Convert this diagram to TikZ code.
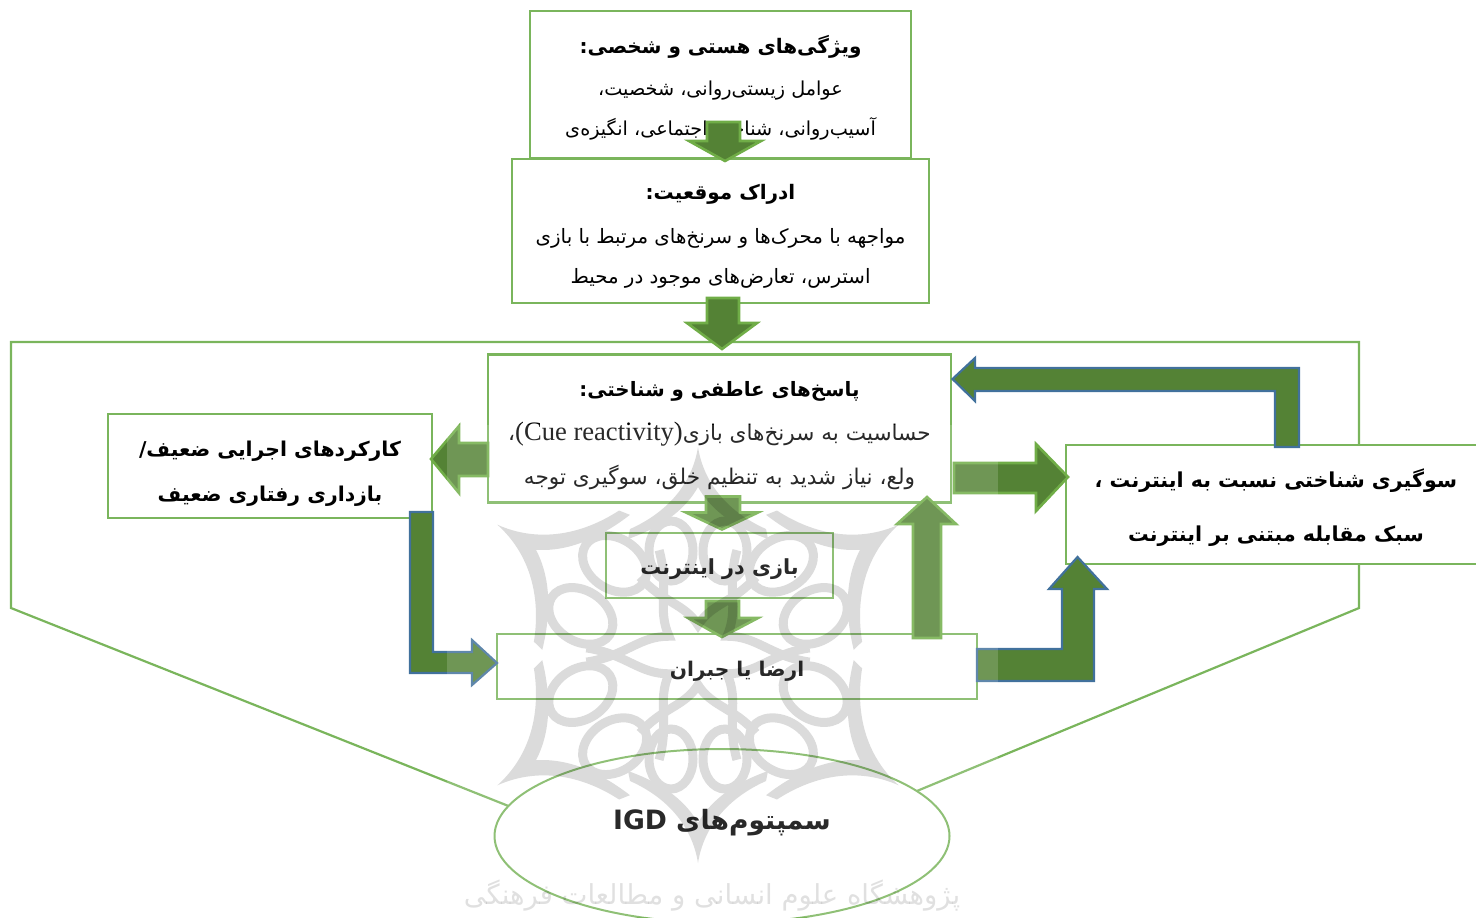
\documentclass[tikz,border=0pt]{standalone}
\usepackage{fontspec}
\usetikzlibrary{shapes.geometric}
\newfontfamily\farsifont[Script=Arabic]{DejaVu Sans}
\newfontfamily\latinserif{Liberation Serif}
\TeXXeTstate=1

\definecolor{boxgreen}{HTML}{7AB55C}
\definecolor{arrowdark}{HTML}{548235}
\definecolor{arrowedge}{HTML}{70AD47}
\definecolor{arrowblue}{HTML}{41719C}

\newcommand{\headfa}[2][10]{{\fontsize{#1}{12}\selectfont\bfseries\beginR #2\endR}}
\newcommand{\bodyfa}[2][9.6]{{\fontsize{#1}{12}\selectfont\beginR #2\endR}}

\tikzset{
  stagebox/.style={draw=boxgreen,fill=white,line width=1.2pt,inner sep=0pt,outer sep=0pt,align=center,font=\farsifont},
  frameline/.style={draw=boxgreen,line width=1.1pt},
  blockedge/.style={draw=arrowedge,fill=arrowdark,line width=1.3pt,line join=miter},
  blockblue/.style={draw=arrowblue,fill=arrowdark,line width=1.1pt,line join=miter},
  waterline/.style={draw=black,line width=4.5pt},
}

\begin{document}
\begin{tikzpicture}[x=0.5pt,y=-0.5pt]
\useasboundingbox (0,0) rectangle (1476,917);
\clip (0,0) rectangle (1476,917);

\node[stagebox,minimum width=190.5pt,minimum height=73.5pt] (traits) at (720.5,84.5) {\rule{0pt}{12pt}\headfa{ویژگی^^^^200cهای هستی و شخصی:}\\[9pt]\bodyfa{عوامل زیستی^^^^200cروانی، شخصیت،}\\[8pt]\bodyfa{آسیب^^^^200cروانی، شناخت اجتماعی، انگیزه^^^^200cی}};
\node[stagebox,minimum width=208.5pt,minimum height=72pt] (percept) at (720.5,231) {\rule{0pt}{13pt}\headfa{ادراک موقعیت:}\\[10pt]\bodyfa[9.9]{مواجهه با محرک^^^^200cها و سرنخ^^^^200cهای مرتبط با بازی}\\[8pt]\bodyfa[9.9]{استرس، تعارض^^^^200cهای موجود در محیط}};

\node[ellipse,draw=boxgreen,line width=1pt,inner sep=0pt,outer sep=0pt,minimum width=227.5pt,minimum height=87pt,font=\farsifont,text depth=17pt] (symptoms) at (722,836) {\fontsize{13.3}{20}\selectfont\bfseries\beginR سمپتوم^^^^200cهای \beginL IGD\endL\endR};

\draw[frameline] (symptoms.13.7) -- (1359,608) -- (1359,342) -- (11,342) -- (11,608) -- (symptoms.172.6);

\node[stagebox,minimum width=231.5pt,minimum height=74pt] (response) at (719.5,428.5) {\rule{0pt}{15pt}\headfa[9.9]{پاسخ^^^^200cهای عاطفی و شناختی:}\\[10pt]\bodyfa[10.8]{حساسیت به سرنخ^^^^200cهای بازی\beginL{\latinserif\fontsize{13.3}{12}\selectfont(Cue reactivity)}\endL،}\\[8.5pt]\bodyfa[10.8]{ولع، نیاز شدید به تنظیم خلق، سوگیری توجه}};
\node[stagebox,minimum width=162pt,minimum height=52pt] (exec) at (270,466) {\rule{0pt}{15pt}\headfa[10.2]{کارکردهای اجرایی ضعیف/}\\[10.5pt]\headfa[10.2]{بازداری رفتاری ضعیف}};
\node[stagebox,minimum width=113.5pt,minimum height=32.5pt] (play) at (719.5,565.5) {\rule{0pt}{12pt}\headfa[10.4]{بازی در اینترنت}};
\node[stagebox,minimum width=240pt,minimum height=32.5pt] (relief) at (737,666.5) {\rule{0pt}{12pt}\headfa[10.1]{ارضا یا جبران}};
\node[stagebox,minimum width=210pt,minimum height=59.5pt] (bias) at (1276,504.5) {\rule{0pt}{12pt}\headfa[10.3]{سوگیری شناختی نسبت به اینترنت ،}\\[15pt]\headfa[10.3]{سبک مقابله مبتنی بر اینترنت}};

% block arrows
\draw[blockedge] (traits.south) ++(-13.5,-36) -- ++(33,0) -- ++(0,19) -- ++(21,0) -- ++(-36,20) -- ++(-36,-20) -- ++(18,0) -- cycle;
\draw[blockedge] (percept.south) ++(-13.5,-5) -- ++(32,0) -- ++(0,25) -- ++(18,0) -- ++(-35,26) -- ++(-35,-26) -- ++(20,0) -- cycle;
\draw[blockedge] (response.west) ++(0,14.5) -- ++(-29,0) -- ++(0,-17) -- ++(-28,33) -- ++(28,34) -- ++(0,-17) -- ++(29,0) -- cycle;
\draw[blockedge] (response.south) ++(-13.5,-6) -- ++(34,0) -- ++(0,16) -- ++(18,0) -- ++(-36,17) -- ++(-36,-17) -- ++(20,0) -- cycle;
\draw[blockedge] (play.south) ++(-13.5,3) -- ++(33,0) -- ++(0,17) -- ++(19,0) -- ++(-36,19) -- ++(-34,-19) -- ++(18,0) -- cycle;
\draw[blockedge] (relief.north) ++(176,4) -- ++(28,0) -- ++(0,-114) -- ++(15,0) -- ++(-29,-27) -- ++(-30,27) -- ++(16,0) -- cycle;
\draw[blockedge] (response.east) ++(3,34.5) -- ++(82,0) -- ++(0,-19) -- ++(32,33) -- ++(-32,34) -- ++(0,-18) -- ++(-82,0) -- cycle;
\draw[blockblue] (bias.north) ++(-1,2) -- ++(0,-56) -- ++(-300,0) -- ++(0,10) -- ++(-22.5,-22) -- ++(22.5,-21) -- ++(0,10) -- ++(324,0) -- ++(0,79) -- cycle;
\draw[blockblue] (relief.east) ++(0,-17.5) -- ++(85,0) -- ++(0,-60) -- ++(-13,0) -- ++(28.5,-32) -- ++(29.5,32) -- ++(-13,0) -- ++(0,92) -- ++(-117,0) -- cycle;
\draw[blockblue] (exec.south) ++(140,-6) -- ++(23,0) -- ++(0,140) -- ++(39,0) -- ++(0,-12) -- ++(25,23) -- ++(-25,22) -- ++(0,-12) -- ++(-62,0) -- cycle;

% pale band of the watermark
\fill[white,opacity=0.16] (447,425) rectangle (998,917);

% watermark rosette
\def\rosx{698}
\def\rosy{655}
\begin{scope}[transparency group,opacity=0.14]
\foreach \ang/\rad in {0/1,57/1.15,123/1.15,180/1,237/1.15,303/1.15}{
  \begin{scope}[shift={(\rosx,\rosy)},rotate=\ang,scale=\rad]
    \fill (0,-208) .. controls (6,-170) and (32,-142) .. (68,-126) -- (70,-116) .. controls (30,-130) and (10,-150) .. (0,-168) .. controls (-10,-150) and (-30,-130) .. (-70,-116) -- (-68,-126) .. controls (-32,-142) and (-6,-170) .. cycle;
    \draw[waterline] (-27,-104) ellipse (22 and 30);
    \draw[waterline] (27,-104) ellipse (22 and 30);
    \draw[waterline] (-58,-78) .. controls (-35,-52) and (-14,-52) .. (0,-30) .. controls (14,-52) and (35,-52) .. (58,-78);
  \end{scope}
}
\end{scope}
\node[font=\farsifont,opacity=0.12,scale=1.25] (waterword) at (712,896) {\fontsize{11}{20}\selectfont\beginR پژوهشگاه علوم انسانی و مطالعات فرهنگی\endR};
\end{tikzpicture}
\end{document}
